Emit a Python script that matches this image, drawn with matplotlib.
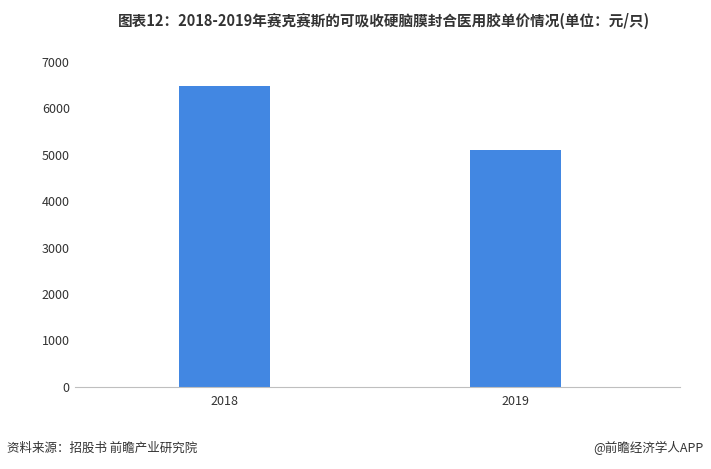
import matplotlib
matplotlib.use("Agg")
import matplotlib.pyplot as plt

plt.rcParams['font.family'] = ['Noto Sans CJK SC', 'DejaVu Sans']

years = ["2018", "2019"]
prices = [6480, 5100]
yticks = [0, 1000, 2000, 3000, 4000, 5000, 6000, 7000]

fig = plt.figure(figsize=(7.11, 4.69), dpi=100)
ax = fig.add_axes([0.105, 0.175, 0.851, 0.693])
x = range(len(years))
ax.bar(x, prices, width=0.31, color="#4287E2")
ax.set_xlim(-0.515, 1.564)
ax.set_ylim(0, 7000)
ax.set_yticks(yticks)
ax.set_xticks(list(x))
ax.set_xticklabels(years)
for s in ["top", "right", "left"]:
    ax.spines[s].set_visible(False)
ax.spines["bottom"].set_color("#BFBFBF")
ax.tick_params(axis="y", length=0, labelsize=9, colors="#333333")
ax.tick_params(axis="x", length=0, labelsize=9, colors="#333333", pad=6)

fig.text(0.54, 0.955, "图表12：2018-2019年赛克赛斯的可吸收硬脑膜封合医用胶单价情况(单位：元/只)",
         ha="center", va="center", fontsize=10.5, fontweight="bold", color="#333333")
fig.text(0.01, 0.045, "资料来源：招股书 前瞻产业研究院", ha="left", va="center", fontsize=9, color="#333333")
fig.text(0.99, 0.045, "@前瞻经济学人APP", ha="right", va="center", fontsize=9, color="#333333")
fig.savefig("out.png", dpi=100)
